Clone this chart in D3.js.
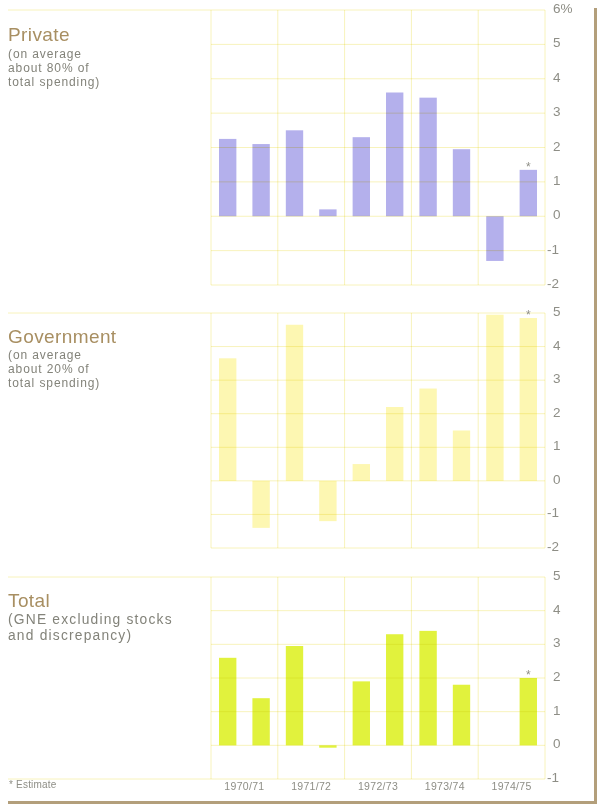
<!DOCTYPE html>
<html>
<head>
<meta charset="utf-8">
<script src="https://cdn.jsdelivr.net/npm/d3@7"></script>
<style>
  html, body { margin: 0; padding: 0; background: #ffffff; }
  svg { display: block; font-family: "Liberation Sans", Arial, sans-serif; }
</style>
</head>
<body>
<svg id="chart" width="600" height="808"></svg>
<script>
// ---- Data ----
const years = ["1970/71", "1971/72", "1972/73", "1973/74", "1974/75"];
const periods = ["70/71a", "70/71b", "71/72a", "71/72b", "72/73a", "72/73b", "73/74a", "73/74b", "74/75a", "74/75b"];
const privateValues = [2.25, 2.1, 2.5, 0.2, 2.3, 3.6, 3.45, 1.95, -1.3, 1.35];
const governmentValues = [3.65, -1.4, 4.65, -1.2, 0.5, 2.2, 2.75, 1.5, 4.95, 4.85];
const totalValues = [2.6, 1.4, 2.95, -0.07, 1.9, 3.3, 3.4, 1.8, 0, 2.0];
const estimateIndex = 9;
const privateTicks = [-2, -1, 0, 1, 2, 3, 4, 5, 6];
const governmentTicks = [-2, -1, 0, 1, 2, 3, 4, 5];
const totalTicks = [-1, 0, 1, 2, 3, 4, 5];
const titles = ["Private", "Government", "Total"];
const subtitles = [
  ["(on average", "about 80% of", "total spending)"],
  ["(on average", "about 20% of", "total spending)"],
  ["(GNE excluding stocks", "and discrepancy)"]
];

// ---- Layout ----
const svg = d3.select("#chart");
const plotLeft = 211, plotRight = 545;
const gridColor = "#f8f3bc";
const tickColor = "#8e8e86";
const titleColor = "#a88f62";
const subColor = "#83837a";

const x = d3.scaleBand().domain(periods).range([plotLeft, plotRight]).paddingInner(0.48).paddingOuter(0.24);
const xYear = d3.scaleBand().domain(years).range([plotLeft, plotRight]);

const panels = [
  { values: privateValues, ticks: privateTicks, domain: [-2, 6], range: [285, 10], color: "#b4b0ec", titleY: 41, subY: 58, subStep: 13.8, subSize: 12, subLs: 0.9, pct: true },
  { values: governmentValues, ticks: governmentTicks, domain: [-2, 5], range: [548, 313], color: "#fdf7b2", titleY: 343, subY: 359, subStep: 14, subSize: 12, subLs: 0.9, pct: false },
  { values: totalValues, ticks: totalTicks, domain: [-1, 5], range: [779, 577], color: "#e1f23d", titleY: 607, subY: 624, subStep: 16, subSize: 13.8, subLs: 1.2, pct: false }
];

panels.forEach((p, pi) => {
  const y = d3.scaleLinear().domain(p.domain).range(p.range);
  const g = svg.append("g");

  // bars
  g.selectAll("rect.bar").data(p.values).enter().append("rect")
    .attr("class", "bar")
    .attr("x", (d, i) => x(periods[i]))
    .attr("width", x.bandwidth())
    .attr("y", d => y(Math.max(0, d)))
    .attr("height", d => Math.abs(y(d) - y(0)))
    .attr("fill", p.color);

  // horizontal gridlines (drawn over bars)
  const yTop = p.domain[1], yBot = p.domain[0];
  g.selectAll("line.h").data(p.ticks).enter().append("line")
    .attr("x1", d => (d === yTop || (pi === 2 && d === yBot)) ? 8 : plotLeft)
    .attr("x2", plotRight)
    .attr("y1", d => y(d)).attr("y2", d => y(d))
    .attr("stroke", gridColor).attr("stroke-width", 1)
    .style("mix-blend-mode", "multiply");

  // vertical gridlines
  const vx = years.map(yr => xYear(yr)).concat([plotRight]);
  g.selectAll("line.v").data(vx).enter().append("line")
    .attr("x1", d => d).attr("x2", d => d)
    .attr("y1", y(yTop)).attr("y2", y(yBot))
    .attr("stroke", gridColor).attr("stroke-width", 1)
    .style("mix-blend-mode", "multiply");

  // tick labels on right
  g.selectAll("text.tick").data(p.ticks).enter().append("text")
    .attr("x", d => d < 0 ? 547 : 553)
    .attr("y", d => y(d) + 3)
    .attr("font-size", 13.5)
    .attr("fill", tickColor)
    .text(d => (d === yTop && p.pct) ? d + "%" : (d < 0 ? "-" + Math.abs(d) : d));

  // estimate asterisk
  const ev = p.values[estimateIndex];
  g.append("text")
    .attr("x", x(periods[estimateIndex]) + x.bandwidth() / 2)
    .attr("y", y(Math.max(0, ev)) + 1)
    .attr("text-anchor", "middle")
    .attr("font-size", 12)
    .attr("fill", tickColor)
    .text("*");

  // titles
  g.append("text").attr("x", 8).attr("y", p.titleY)
    .attr("font-size", 19).attr("letter-spacing", 0.4).attr("fill", titleColor)
    .text(titles[pi]);
  g.selectAll("text.sub").data(subtitles[pi]).enter().append("text")
    .attr("x", 8).attr("y", (d, i) => p.subY + i * p.subStep)
    .attr("font-size", p.subSize).attr("letter-spacing", p.subLs).attr("fill", subColor)
    .text(d => d);
});

// year labels
svg.selectAll("text.year").data(years).enter().append("text")
  .attr("x", d => xYear(d) + xYear.bandwidth() / 2)
  .attr("y", 790)
  .attr("text-anchor", "middle")
  .attr("font-size", 10.5)
  .attr("letter-spacing", 0.3)
  .attr("fill", tickColor)
  .text(d => d);

// footnote
svg.append("text").attr("x", 9).attr("y", 788)
  .attr("font-size", 10).attr("letter-spacing", 0.2).attr("fill", tickColor)
  .text("* Estimate");

// frame (right and bottom rules)
svg.append("rect").attr("x", 594).attr("y", 8).attr("width", 3).attr("height", 796).attr("fill", "#b39f7b");
svg.append("rect").attr("x", 8).attr("y", 801).attr("width", 589).attr("height", 3).attr("fill", "#b39f7b");
</script>
</body>
</html>
